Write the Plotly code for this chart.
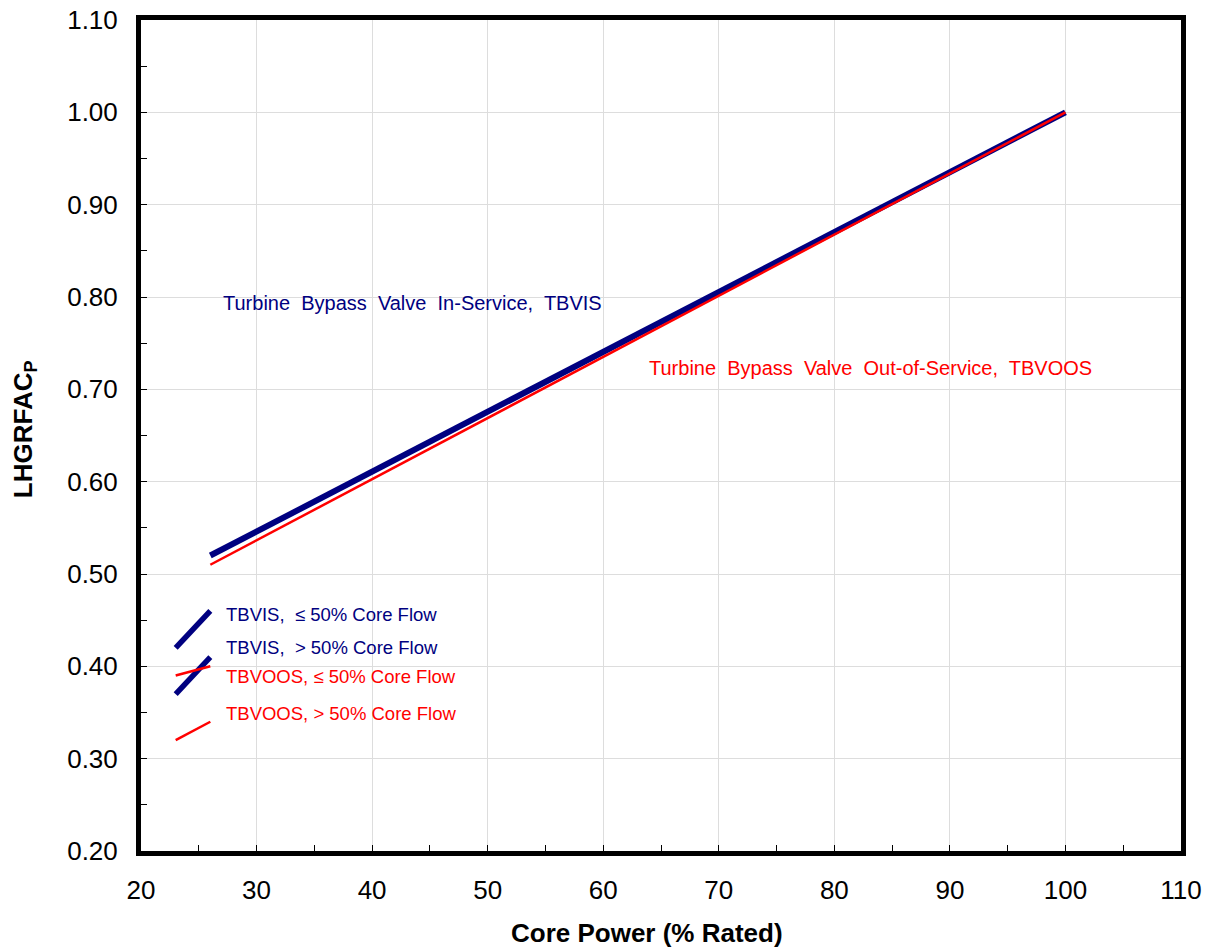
import plotly.graph_objects as go

# Main LHGRFAC_P curves (core power %, multiplier)
tbvis_power = [26, 100]
tbvis_lhgrfac = [0.52, 1.00]
tbvoos_power = [26, 100]
tbvoos_lhgrfac = [0.51, 1.00]

# Low-power segments, split by core flow
low_power = [23, 26]
tbvis_le50 = [0.42, 0.46]
tbvis_gt50 = [0.37, 0.41]
tbvoos_le50 = [0.39, 0.40]
tbvoos_gt50 = [0.32, 0.34]

x_ticks = [20, 30, 40, 50, 60, 70, 80, 90, 100, 110]
y_ticks = [0.20, 0.30, 0.40, 0.50, 0.60, 0.70, 0.80, 0.90, 1.00, 1.10]

NAVY = "#000080"
RED = "#FF0000"
FONT = "Arial, Liberation Sans, sans-serif"

fig = go.Figure()

def seg(x, y, color, width):
    fig.add_trace(go.Scatter(x=x, y=y, mode="lines",
                             line=dict(color=color, width=width),
                             hoverinfo="skip", showlegend=False))

seg(low_power, tbvis_le50, NAVY, 5.5)
seg(low_power, tbvis_gt50, NAVY, 5.5)
seg(low_power, tbvoos_le50, RED, 2.5)
seg(low_power, tbvoos_gt50, RED, 2.5)
seg(tbvis_power, tbvis_lhgrfac, NAVY, 6)
seg(tbvoos_power, tbvoos_lhgrfac, RED, 2.5)

labels = [
    (26.9, 0.793, "Turbine  Bypass  Valve  In-Service,  TBVIS", NAVY, 20),
    (63.8, 0.723, "Turbine  Bypass  Valve  Out-of-Service,  TBVOOS", RED, 20),
    (27.2, 0.456, "TBVIS,  \u2264 50% Core Flow", NAVY, 18.5),
    (27.2, 0.420, "TBVIS,  > 50% Core Flow", NAVY, 18.5),
    (27.2, 0.389, "TBVOOS, \u2264 50% Core Flow", RED, 18.5),
    (27.2, 0.349, "TBVOOS, > 50% Core Flow", RED, 18.5),
]
for x, y, t, c, s in labels:
    fig.add_annotation(x=x, y=y, text=t, showarrow=False, xanchor="left",
                       yanchor="middle", font=dict(family=FONT, size=s, color=c))

fig.add_annotation(x=0.487, y=-0.099, xref="paper", yref="paper",
                   xanchor="center", yanchor="middle",
                   text="<b>Core Power (% Rated)</b>", showarrow=False,
                   font=dict(family=FONT, size=26, color="black"))
fig.add_annotation(x=-0.112, y=0.507, xref="paper", yref="paper",
                   xanchor="center", yanchor="middle",
                   text="<b>LHGRFAC<sub>P</sub></b>", showarrow=False, textangle=-90,
                   font=dict(family=FONT, size=26, color="black"))

axis_common = dict(
    showline=True, linecolor="black", linewidth=5, mirror=True,
    showgrid=True, gridcolor="#DDDDDD", gridwidth=1,
    ticks="inside", ticklen=6, tickcolor="black", tickwidth=1,
    tickfont=dict(family=FONT, size=26, color="black"),
    zeroline=False, automargin=False,
)

fig.update_xaxes(range=[20, 110], tickvals=x_ticks,
                 ticktext=[str(v) for v in x_ticks],
                 minor=dict(dtick=5, ticks="inside", ticklen=6, tickcolor="black", showgrid=False),
                 ticklabelstandoff=12, **axis_common)
fig.update_yaxes(range=[0.20, 1.10], tickvals=y_ticks,
                 ticktext=[f"{v:.2f}" for v in y_ticks],
                 minor=dict(dtick=0.05, tick0=0.2, ticks="inside", ticklen=6, tickcolor="black", showgrid=False),
                 ticklabelstandoff=13, **axis_common)

fig.update_layout(
    width=1211, height=949,
    margin=dict(l=141, r=30, t=20, b=98, autoexpand=False),
    plot_bgcolor="white", paper_bgcolor="white",
    font=dict(family=FONT),
)

fig.write_html("out.html")
